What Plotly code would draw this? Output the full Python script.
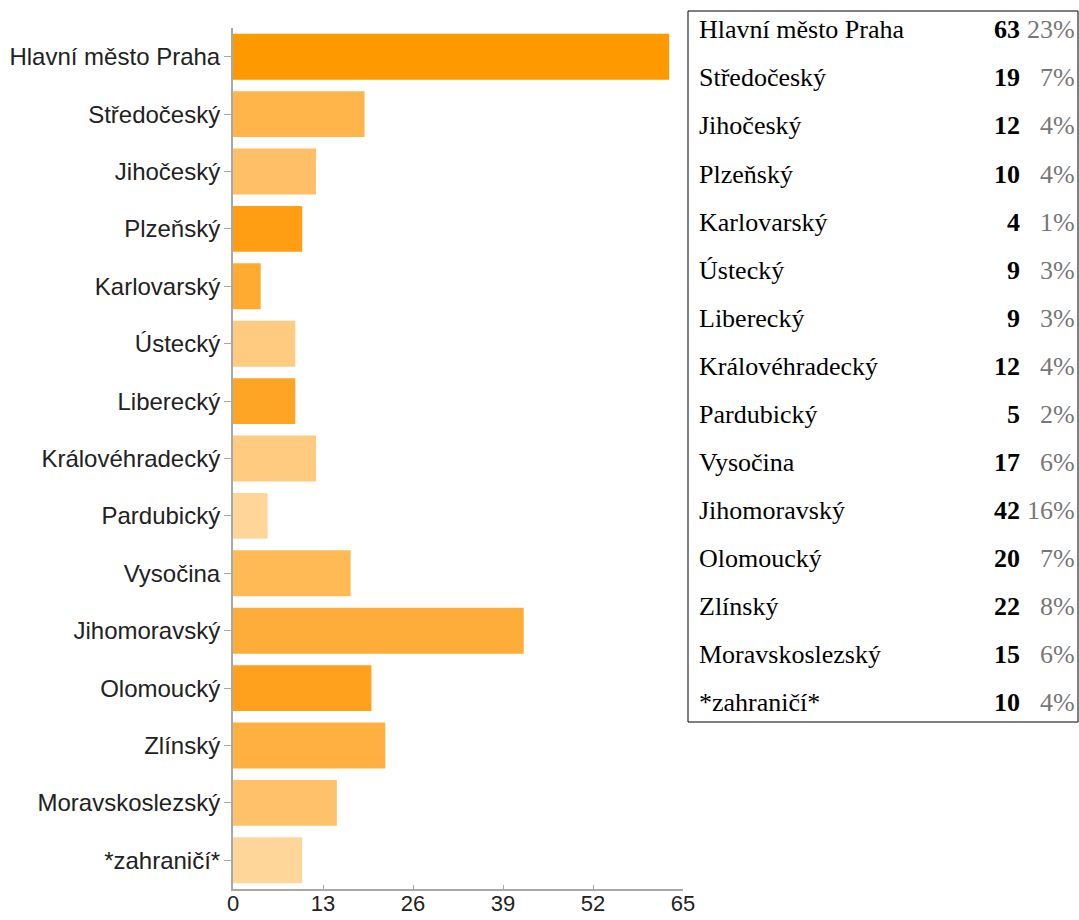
import plotly.graph_objects as go

# Regions (kraje) and respondent counts
regions = [
    "Hlavní město Praha", "Středočeský", "Jihočeský", "Plzeňský", "Karlovarský",
    "Ústecký", "Liberecký", "Královéhradecký", "Pardubický", "Vysočina",
    "Jihomoravský", "Olomoucký", "Zlínský", "Moravskoslezský", "*zahraničí*",
]
counts = [63, 19, 12, 10, 4, 9, 9, 12, 5, 17, 42, 20, 22, 15, 10]
shares = ["23%", "7%", "4%", "4%", "1%", "3%", "3%", "4%", "2%", "6%",
          "16%", "7%", "8%", "6%", "4%"]
bar_colors = [
    "#FF9900", "#FFB54A", "#FFBF66", "#FF9E12", "#FFAA30",
    "#FFCB80", "#FFA525", "#FFCB80", "#FFD699", "#FFBA55",
    "#FFAD3A", "#FFA11C", "#FFB040", "#FFC26B", "#FFD699",
]
x_ticks = [0, 13, 26, 39, 52, 65]

W, H = 1079, 920
ML, MR, MT, MB = 233, 396, 28, 31
PW, PH = W - ML - MR, H - MT - MB


def px(x):
    return (x - ML) / PW


def py(y):
    return (H - MB - y) / PH


fig = go.Figure(go.Bar(
    x=counts,
    y=regions,
    orientation="h",
    marker=dict(color=bar_colors, line=dict(width=0)),
    hoverinfo="x+y",
))

fig.update_layout(
    width=W, height=H,
    margin=dict(l=ML, r=MR, t=MT, b=MB, pad=0, autoexpand=False),
    paper_bgcolor="white",
    plot_bgcolor="white",
    showlegend=False,
    bargap=0.2,
    font=dict(family="Liberation Sans, Arial, sans-serif", size=24, color="#222"),
)

fig.update_xaxes(
    range=[0, 65],
    tickvals=x_ticks,
    ticktext=[str(t) for t in x_ticks],
    showgrid=False,
    zeroline=False,
    showline=True,
    linecolor="#a8a8a8",
    linewidth=2,
    ticks="inside",
    ticklen=4,
    tickcolor="#a8a8a8",
    ticklabelstandoff=-6,
    tickfont=dict(size=22, color="#222"),
    automargin=False,
    fixedrange=True,
)

fig.update_yaxes(
    categoryorder="array",
    categoryarray=regions,
    autorange="reversed",
    showgrid=False,
    zeroline=False,
    showline=True,
    linecolor="#a8a8a8",
    linewidth=2,
    ticks="outside",
    ticklen=7,
    tickcolor="#a8a8a8",
    ticklabelstandoff=-1,
    tickfont=dict(size=24, color="#222"),
    automargin=False,
    fixedrange=True,
)

# Summary table to the right of the chart
box_left, box_right, box_top, box_bottom = 688, 1078, 11, 722
row_first, row_step = 30, 48
fig.add_shape(
    type="rect", xref="paper", yref="paper",
    x0=px(box_left), x1=px(box_right), y0=py(box_bottom), y1=py(box_top),
    line=dict(color="black", width=1), fillcolor="rgba(0,0,0,0)",
)

serif = "Liberation Serif, Times New Roman, serif"
for i, (name, n, pct) in enumerate(zip(regions, counts, shares)):
    yc = py(row_first + row_step * i)
    fig.add_annotation(
        xref="paper", yref="paper", x=px(697), y=yc,
        xanchor="left", yanchor="middle", showarrow=False,
        text=name, font=dict(family=serif, size=26, color="black"),
    )
    fig.add_annotation(
        xref="paper", yref="paper", x=px(1022), y=yc,
        xanchor="right", yanchor="middle", showarrow=False,
        text=f"<b>{n}</b>", font=dict(family=serif, size=26, color="black"),
    )
    fig.add_annotation(
        xref="paper", yref="paper", x=px(1077), y=yc,
        xanchor="right", yanchor="middle", showarrow=False,
        text=pct, font=dict(family=serif, size=26, color="#777"),
    )

fig.write_html("out.html", config={"displayModeBar": False})
